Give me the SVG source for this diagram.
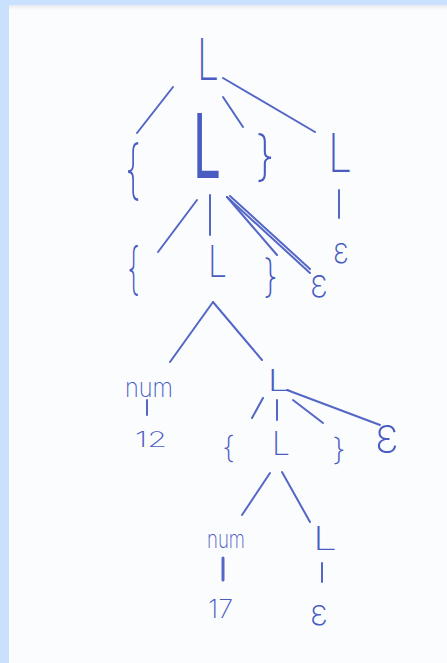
<svg xmlns="http://www.w3.org/2000/svg" width="447" height="663" viewBox="0 0 447 663">
  <defs>
    <linearGradient id="paperShade" x1="0" y1="0" x2="0" y2="1">
      <stop offset="0" stop-color="#e6e9ef"/>
      <stop offset="1" stop-color="#fbfcfe"/>
    </linearGradient>
    <style>
      .ink { fill: #4a5cc2; font-family: Inter, Roboto, "DejaVu Sans", sans-serif; font-weight: 200; }
      .bold { font-weight: 400; }
      .edge { stroke: #5466c6; stroke-width: 2; stroke-linecap: round; fill: none; }
    </style>
  </defs>

  <!-- backdrop and paper sheet -->
  <rect x="0" y="0" width="447" height="663" fill="#c9e1fc"/>
  <rect x="9" y="5" width="438" height="658" fill="#fbfcfe"/>
  <rect x="9" y="5" width="438" height="5" fill="url(#paperShade)"/>

  <!-- tree edges -->
  <g id="connectors" class="edge">
    <line x1="173" y1="87" x2="137" y2="133"/>
    <line x1="223" y1="97" x2="243" y2="127"/>
    <line x1="223" y1="78" x2="315" y2="132"/>
    <line x1="339" y1="190" x2="339" y2="218"/>
    <line x1="197" y1="200" x2="158" y2="252"/>
    <line x1="210" y1="195" x2="210" y2="235"/>
    <line x1="227" y1="197" x2="277" y2="255"/>
    <line x1="227" y1="197" x2="310" y2="273"/>
    <line x1="230" y1="196" x2="310" y2="269"/>
    <line x1="213" y1="302" x2="170" y2="362"/>
    <line x1="213" y1="302" x2="262" y2="360"/>
    <line x1="147" y1="400" x2="147" y2="415"/>
    <line x1="263" y1="398" x2="252" y2="418"/>
    <line x1="277" y1="400" x2="277" y2="420"/>
    <line x1="293" y1="400" x2="323" y2="423"/>
    <line x1="287" y1="390" x2="380" y2="425"/>
    <line x1="270" y1="473" x2="242" y2="515"/>
    <line x1="282" y1="472" x2="310" y2="522"/>
    <line x1="223" y1="558" x2="223" y2="580" stroke-width="3"/>
    <line x1="322" y1="563" x2="322" y2="582"/>
  </g>

  <!-- tree nodes -->
  <g id="n-root"><text class="ink" x="197" y="80" font-size="58" textLength="22" lengthAdjust="spacingAndGlyphs">L</text></g>
  <g id="n-lbrace1"><text class="ink" x="125" y="192" font-size="65" textLength="16" lengthAdjust="spacingAndGlyphs">{</text></g>
  <g id="n-L1"><text class="ink bold" x="193" y="178" font-size="90" textLength="28" lengthAdjust="spacingAndGlyphs">L</text></g>
  <g id="n-rbrace1"><text class="ink" x="255" y="175" font-size="54" textLength="20" lengthAdjust="spacingAndGlyphs">}</text></g>
  <g id="n-L1b"><text class="ink" x="328" y="172" font-size="54" textLength="24" lengthAdjust="spacingAndGlyphs">L</text></g>
  <g id="n-eps1"><text class="ink" x="333" y="263" font-size="36" textLength="16" lengthAdjust="spacingAndGlyphs">ε</text></g>
  <g id="n-lbrace2"><text class="ink" x="127" y="288" font-size="56" textLength="13" lengthAdjust="spacingAndGlyphs">{</text></g>
  <g id="n-L2"><text class="ink" x="208" y="277" font-size="44" textLength="19" lengthAdjust="spacingAndGlyphs">L</text></g>
  <g id="n-rbrace2"><text class="ink" x="263" y="292" font-size="45" textLength="15" lengthAdjust="spacingAndGlyphs">}</text></g>
  <g id="n-eps2"><text class="ink" x="310" y="297" font-size="40" textLength="18" lengthAdjust="spacingAndGlyphs">ε</text></g>
  <g id="n-num1"><text class="ink" x="125" y="397" font-size="26" textLength="48" lengthAdjust="spacingAndGlyphs">num</text></g>
  <g id="n-12"><text class="ink" x="135" y="447" font-size="21" textLength="32" lengthAdjust="spacingAndGlyphs">12</text></g>
  <g id="n-L3"><text class="ink" x="267" y="391" font-size="30" textLength="25" lengthAdjust="spacingAndGlyphs">L</text></g>
  <g id="n-lbrace3"><text class="ink" x="222" y="458" font-size="30" textLength="13" lengthAdjust="spacingAndGlyphs">{</text></g>
  <g id="n-L4"><text class="ink" x="272" y="455" font-size="32" textLength="18" lengthAdjust="spacingAndGlyphs">L</text></g>
  <g id="n-rbrace3"><text class="ink" x="332" y="460" font-size="30" textLength="14" lengthAdjust="spacingAndGlyphs">}</text></g>
  <g id="n-eps3"><text class="ink" x="375" y="453" font-size="51" textLength="24" lengthAdjust="spacingAndGlyphs">ε</text></g>
  <g id="n-num2"><text class="ink" x="207" y="548" font-size="24" textLength="38" lengthAdjust="spacingAndGlyphs">num</text></g>
  <g id="n-17"><text class="ink" x="208" y="618" font-size="25" textLength="25" lengthAdjust="spacingAndGlyphs">17</text></g>
  <g id="n-L5"><text class="ink" x="313" y="550" font-size="32" textLength="24" lengthAdjust="spacingAndGlyphs">L</text></g>
  <g id="n-eps4"><text class="ink" x="310" y="625" font-size="36" textLength="18" lengthAdjust="spacingAndGlyphs">ε</text></g>
</svg>
